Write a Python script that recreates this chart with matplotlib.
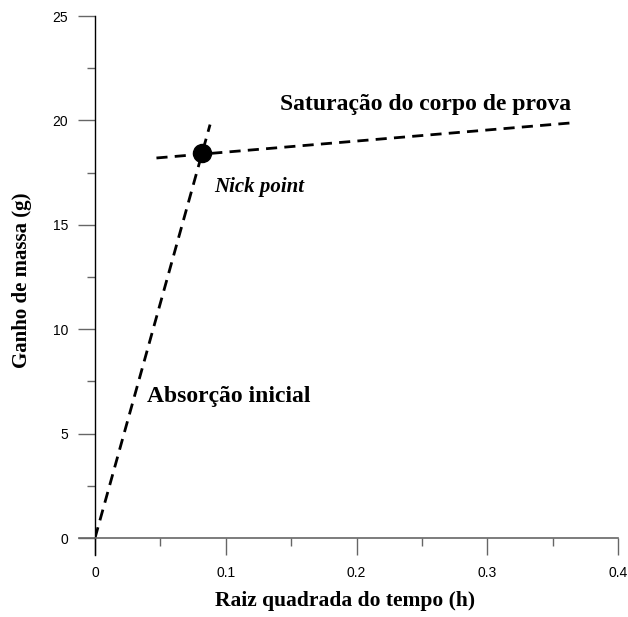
import matplotlib
matplotlib.use("Agg")
import matplotlib.pyplot as plt
from matplotlib.ticker import MultipleLocator

# Fitted lines of the capillary absorption test
absorption_x = [0.0, 0.088]
absorption_y = [0.0, 19.8]
saturation_x = [0.047, 0.368]
saturation_y = [18.2, 19.9]
nick_x = [0.082]
nick_y = [18.45]

x_ticks = [0, 0.1, 0.2, 0.3, 0.4]
x_tick_labels = ["0", "0.1", "0.2", "0.3", "0.4"]
y_ticks = [0, 5, 10, 15, 20, 25]
y_tick_labels = ["0", "5", "10", "15", "20", "25"]

serif = "Liberation Serif"
sans = "Liberation Sans"

fig = plt.figure(figsize=(6.28, 6.17), dpi=100)
ax = fig.add_axes([95 / 628, 1 - 538 / 617, (618 - 95) / 628, (538 - 16) / 617])

ax.plot(absorption_x, absorption_y, color="black", lw=2.0, dashes=(4, 2.6))
ax.plot(saturation_x, saturation_y, color="black", lw=2.0, dashes=(4, 2.6))
ax.plot(nick_x, nick_y, "o", color="black", markersize=13, zorder=5)

ax.set_xlim(0, 0.4)
ax.set_ylim(0, 25)
ax.set_xticks(x_ticks)
ax.set_xticklabels(x_tick_labels)
ax.set_yticks(y_ticks)
ax.set_yticklabels(y_tick_labels)
ax.xaxis.set_minor_locator(MultipleLocator(0.05))
ax.yaxis.set_minor_locator(MultipleLocator(2.5))

for side in ("top", "right"):
    ax.spines[side].set_visible(False)
ax.spines["left"].set_color("black")
ax.spines["bottom"].set_color("#666666")
ax.spines["left"].set_linewidth(1.0)
ax.spines["bottom"].set_linewidth(1.2)

ax.tick_params(axis="both", which="major", length=12.2, width=1.0, color="#666666")
ax.tick_params(axis="both", which="minor", length=5.8, width=1.0, color="#666666")
ax.tick_params(axis="x", which="major", pad=8)
ax.tick_params(axis="y", which="major", pad=7)
for lab in ax.get_xticklabels() + ax.get_yticklabels():
    lab.set_fontfamily(sans)
    lab.set_fontsize(10)

# spine extensions past the origin
ax.plot([-0.0125, 0], [0, 0], color="#666666", lw=1.2, clip_on=False)
ax.plot([0, 0], [0, -0.8], color="black", lw=1.0, clip_on=False)

ax.set_xlabel("Raiz quadrada do tempo (h)", fontfamily=serif, fontweight="bold",
              fontsize=15.5)
ax.xaxis.set_label_coords(0.479, -0.102)
ax.set_ylabel("Ganho de massa (g)", fontfamily=serif, fontweight="bold",
              fontsize=15)
ax.yaxis.set_label_coords(-0.12, 0.494)

ax.text(0.1415, 20.75, "Saturação do corpo de prova", fontfamily=serif,
        fontweight="bold", fontsize=17, ha="left", va="center")
ax.text(0.091, 16.8, "Nick point", fontfamily=serif, fontweight="bold",
        fontstyle="italic", fontsize=15, ha="left", va="center")
ax.text(0.0395, 6.8, "Absorção inicial", fontfamily=serif, fontweight="bold",
        fontsize=17, ha="left", va="center")

fig.savefig("out.png", dpi=100)
